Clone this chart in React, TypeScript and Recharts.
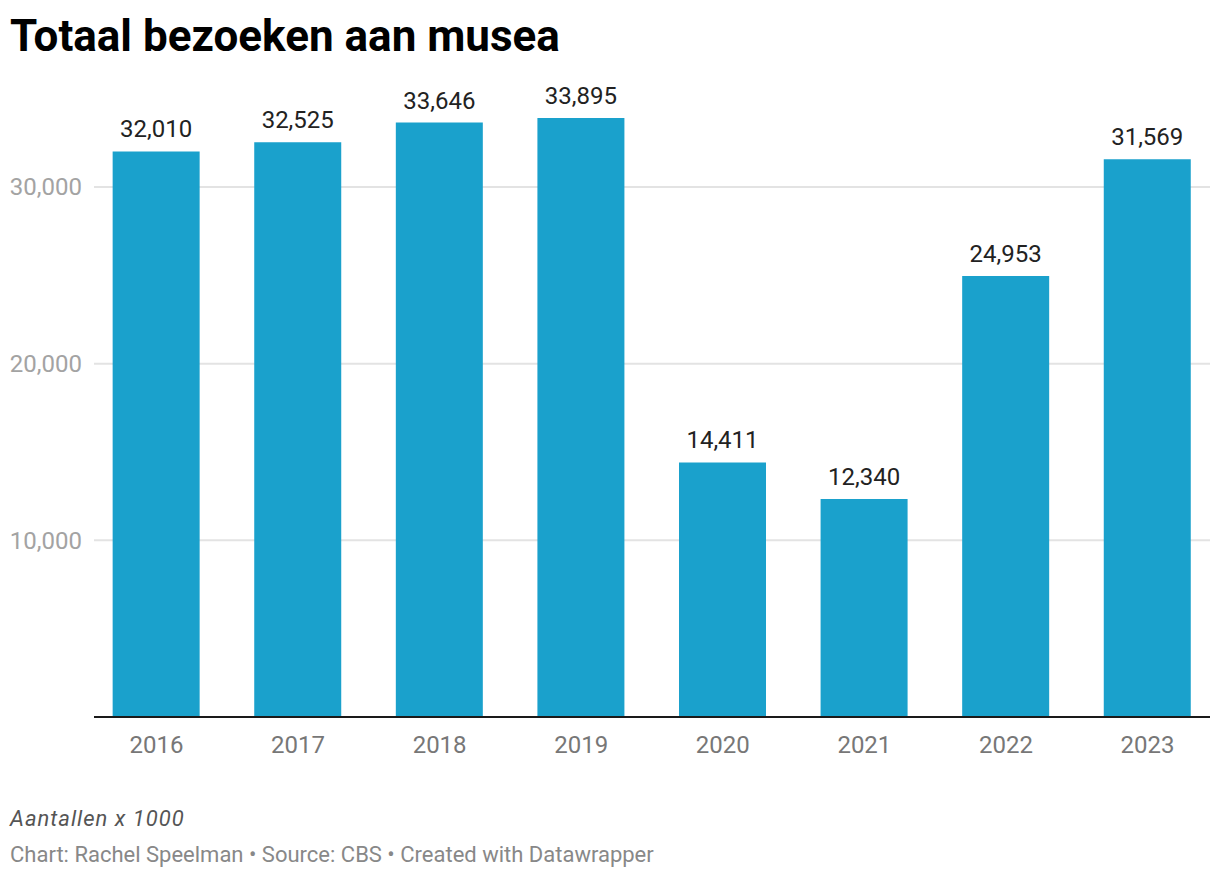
import React from 'react';
import { BarChart, Bar, XAxis, YAxis, CartesianGrid, LabelList } from 'recharts';

const years = ['2016', '2017', '2018', '2019', '2020', '2021', '2022', '2023'];
const visits = [32010, 32525, 33646, 33895, 14411, 12340, 24953, 31569];
const yTicks = [10000, 20000, 30000];
const xTicks = [0, 1, 2, 3, 4, 5, 6, 7];

const data = years.map((year, i) => ({ i, year, value: visits[i] }));
const fmt = (v: number) => Number(v).toLocaleString('en-US');

const YTick = (props: any) => {
  const { y, payload } = props;
  return (
    <text x={82} y={y} dy="0.35em" textAnchor="end" fill="#a3a3a3" fontSize={24} fontFamily="Roboto">
      {fmt(payload.value)}
    </text>
  );
};

export default function App() {
  return (
    <div style={{ position: 'absolute', left: 0, top: 0, width: 1220, height: 878, background: '#fff' }}>
      <svg width={1220} height={878} style={{ position: 'absolute', left: 0, top: 0 }}>
        <text x={10} y={51} fontFamily="Roboto" fontWeight={700} fontSize={44} fill="#000">
          Totaal bezoeken aan musea
        </text>
        <text x={10} y={826} fontFamily="Roboto" fontStyle="italic" fontSize={22} letterSpacing={1} fill="#555">
          Aantallen x 1000
        </text>
        <text x={10} y={862} fontFamily="Roboto" fontSize={22} fill="#888">
          Chart: Rachel Speelman • Source: CBS • Created with Datawrapper
        </text>
      </svg>
      <div style={{ position: 'absolute', left: 0, top: 0 }}>
        <BarChart
          width={1220}
          height={878}
          data={data}
          margin={{ top: 98.6, right: 10, bottom: 131, left: 0 }}
          style={{ fontFamily: 'Roboto' }}
        >
          <CartesianGrid
            vertical={false}
            stroke="#e3e3e3"
            strokeWidth={2}
            horizontalValues={yTicks}
          />
          <YAxis
            domain={[0, 35000]}
            ticks={yTicks}
            width={94}
            axisLine={false}
            tickLine={false}
            tick={<YTick />}
            allowDataOverflow
          />
          <XAxis
            type="number"
            dataKey="i"
            domain={[-0.441, 7.441]}
            ticks={xTicks}
            interval={0}
            height={30}
            tickFormatter={(v: number) => years[v]}
            axisLine={{ stroke: '#1a1a1a', strokeWidth: 2 }}
            tickLine={false}
            tickMargin={13}
            tick={{ fill: '#777', fontSize: 24, fontFamily: 'Roboto' }}
            allowDataOverflow
          />
          <Bar dataKey="value" fill="#1aa1cc" barSize={87} isAnimationActive={false}>
            <LabelList
              dataKey="value"
              position="top"
              offset={14}
              formatter={(v: any) => fmt(v)}
              fill="#222"
              fontSize={24}
              fontFamily="Roboto"
            />
          </Bar>
        </BarChart>
      </div>
    </div>
  );
}
